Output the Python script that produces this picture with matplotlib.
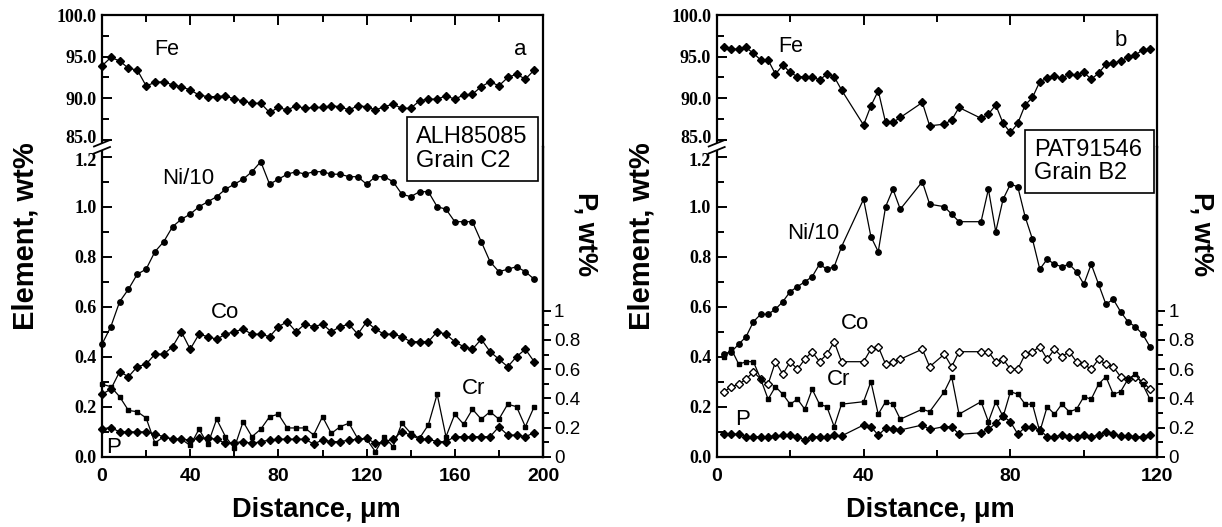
import matplotlib
matplotlib.use('Agg')
import matplotlib.pyplot as plt
import matplotlib.transforms as mtransforms
from matplotlib.lines import Line2D
from matplotlib.patches import Rectangle, Polygon

# ---------------- data ----------------
a_x = [0, 4, 8, 12, 16, 20, 24, 28, 32, 36, 40, 44, 48, 52, 56, 60, 64, 68, 72, 76,
       80, 84, 88, 92, 96, 100, 104, 108, 112, 116, 120, 124, 128, 132, 136, 140, 144, 148, 152, 156,
       160, 164, 168, 172, 176, 180, 184, 188, 192, 196]
a_fe = [93.9, 94.9, 94.5, 93.6, 93.4, 91.5, 91.9, 92.0, 91.6, 91.4,
        91.0, 90.4, 90.2, 90.2, 90.3, 89.9, 89.7, 89.4, 89.4, 88.3,
        88.9, 88.6, 89.1, 88.8, 88.9, 88.9, 89.1, 89.0, 88.6, 89.1,
        89.0, 88.6, 89.0, 89.3, 88.8, 88.8, 89.7, 89.9, 89.9, 90.3,
        89.9, 90.4, 90.5, 91.4, 92.0, 91.5, 92.5, 92.9, 92.3, 93.4]
a_ni = [0.45, 0.52, 0.62, 0.67, 0.73, 0.75, 0.82, 0.86, 0.92, 0.95,
        0.97, 1.00, 1.02, 1.04, 1.07, 1.09, 1.11, 1.14, 1.18, 1.09,
        1.11, 1.13, 1.14, 1.13, 1.14, 1.14, 1.13, 1.13, 1.12, 1.12,
        1.09, 1.12, 1.12, 1.10, 1.05, 1.04, 1.06, 1.06, 1.00, 0.99,
        0.94, 0.94, 0.94, 0.86, 0.78, 0.74, 0.75, 0.76, 0.74, 0.71]
a_co = [0.25, 0.27, 0.34, 0.32, 0.36, 0.37, 0.41, 0.41, 0.44, 0.50,
        0.43, 0.49, 0.48, 0.47, 0.49, 0.50, 0.51, 0.49, 0.49, 0.48,
        0.52, 0.54, 0.50, 0.53, 0.52, 0.53, 0.50, 0.52, 0.53, 0.49,
        0.54, 0.51, 0.49, 0.49, 0.48, 0.46, 0.46, 0.46, 0.50, 0.49,
        0.46, 0.44, 0.43, 0.47, 0.42, 0.39, 0.36, 0.40, 0.43, 0.38]
a_cr = [0.29, 0.28, 0.24, 0.185, 0.18, 0.155, 0.055, 0.08, 0.07, 0.07,
        0.045, 0.11, 0.05, 0.15, 0.08, 0.035, 0.14, 0.08, 0.11, 0.16,
        0.17, 0.115, 0.115, 0.115, 0.087, 0.16, 0.093, 0.12, 0.134, 0.072,
        0.07, 0.02, 0.08, 0.04, 0.134, 0.094, 0.074, 0.127, 0.25, 0.08,
        0.17, 0.13, 0.19, 0.15, 0.18, 0.15, 0.21, 0.20, 0.12, 0.20]
a_p = [0.19, 0.20, 0.17, 0.17, 0.17, 0.17, 0.155, 0.137, 0.12, 0.12,
       0.114, 0.126, 0.126, 0.12, 0.091, 0.096, 0.103, 0.091, 0.103, 0.114,
       0.12, 0.12, 0.12, 0.12, 0.087, 0.114, 0.103, 0.103, 0.114, 0.12,
       0.126, 0.091, 0.103, 0.12, 0.171, 0.148, 0.12, 0.12, 0.103, 0.103,
       0.137, 0.137, 0.137, 0.137, 0.137, 0.205, 0.148, 0.148, 0.137, 0.164]

b_x = [2, 4, 6, 8, 10, 12, 14, 16, 18, 20, 22, 24, 26, 28, 30, 32, 34,
       40, 42, 44, 46, 48, 50, 56, 58, 62, 64, 66,
       72, 74, 76, 78, 80, 82, 84, 86, 88, 90, 92, 94, 96, 98, 100, 102, 104, 106, 108,
       110, 112, 114, 116, 118]
b_fe = [96.1, 95.9, 95.9, 96.1, 95.4, 94.6, 94.6, 92.9, 94.0, 93.1, 92.6, 92.6, 92.6, 92.2, 92.9, 92.6, 91.0,
        86.8, 89.1, 90.9, 87.1, 87.1, 87.7, 89.5, 86.7, 86.9, 87.4, 88.9,
        87.6, 88.1, 89.2, 87.0, 85.9, 87.0, 89.2, 90.1, 92.0, 92.4, 92.7, 92.4, 92.9, 92.8, 93.1, 92.3, 93.0,
        94.1, 94.2, 94.5, 94.9, 95.2, 95.8, 95.9]
b_ni = [0.41, 0.42, 0.45, 0.48, 0.54, 0.57, 0.57, 0.59, 0.62, 0.66, 0.68, 0.70, 0.72, 0.77, 0.75, 0.76, 0.84,
        1.03, 0.88, 0.82, 1.00, 1.07, 0.99, 1.10, 1.01, 1.00, 0.97, 0.94,
        0.94, 1.07, 0.90, 1.03, 1.09, 1.08, 0.96, 0.87, 0.75, 0.79, 0.77, 0.76, 0.77, 0.74, 0.69, 0.77, 0.69,
        0.61, 0.63, 0.58, 0.54, 0.52, 0.49, 0.44]
b_co = [0.26, 0.28, 0.29, 0.31, 0.34, 0.31, 0.29, 0.38, 0.33, 0.38, 0.35, 0.39, 0.42, 0.38, 0.41, 0.46, 0.38,
        0.38, 0.43, 0.44, 0.37, 0.38, 0.39, 0.43, 0.36, 0.41, 0.36, 0.42,
        0.42, 0.42, 0.38, 0.39, 0.35, 0.35, 0.41, 0.42, 0.44, 0.39, 0.43, 0.40, 0.42, 0.38, 0.37, 0.35, 0.39,
        0.37, 0.36, 0.32, 0.31, 0.32, 0.30, 0.27]
b_cr = [0.40, 0.43, 0.37, 0.38, 0.38, 0.31, 0.23, 0.28, 0.25, 0.21, 0.23, 0.19, 0.27, 0.21, 0.20, 0.12, 0.21,
        0.22, 0.30, 0.17, 0.22, 0.21, 0.15, 0.19, 0.18, 0.26, 0.32, 0.17,
        0.22, 0.14, 0.22, 0.16, 0.26, 0.25, 0.21, 0.21, 0.10, 0.20, 0.17, 0.21, 0.18, 0.19, 0.24, 0.23, 0.29,
        0.32, 0.25, 0.26, 0.31, 0.33, 0.29, 0.23]
b_p = [0.155, 0.155, 0.155, 0.137, 0.137, 0.137, 0.137, 0.142, 0.148, 0.148, 0.137, 0.114, 0.137, 0.137, 0.137, 0.148, 0.142,
       0.217, 0.206, 0.148, 0.194, 0.19, 0.183, 0.217, 0.187, 0.206, 0.206, 0.153,
       0.164, 0.187, 0.228, 0.278, 0.239, 0.155, 0.201, 0.201, 0.183, 0.137, 0.137, 0.148, 0.137, 0.137, 0.148, 0.137, 0.148,
       0.171, 0.155, 0.142, 0.142, 0.137, 0.137, 0.148]

fe_ticks = [85, 90, 95, 100]
fe_labels = ['85.0', '90.0', '95.0', '100.0']
low_ticks = [0.0, 0.2, 0.4, 0.6, 0.8, 1.0, 1.2]
low_labels = ['0.0', '0.2', '0.4', '0.6', '0.8', '1.0', '1.2']
p_ticks = [0, 0.2, 0.4, 0.6, 0.8, 1.0]
p_labels = ['0', '0.2', '0.4', '0.6', '0.8', '1']
a_xticks = [0, 40, 80, 120, 160, 200]
b_xticks = [0, 40, 80, 120]

# ---------------- layout helpers ----------------
W, H = 1222, 527
fig = plt.figure(figsize=(W / 100, H / 100), dpi=100)
SANS = 'Liberation Sans'
SERIF = 'Liberation Serif'


def fx(px):
    return px / W


def fy(py):
    return 1 - py / H


TOP, BRK, BOT = 15.0, 147.0, 456.7


def nudge(label, dy_px):
    off = mtransforms.ScaledTranslation(0, dy_px / 100.0, fig.dpi_scale_trans)
    label.set_transform(label.get_transform() + off)


def panel(x0, x1, xmax, xticks, xs, fe, ni, co, cr, p, co_open, texts, box, boxtext, lab_x, plab_x, dist_x):
    ax_t = fig.add_axes([fx(x0), fy(BRK), (x1 - x0) / W, (BRK - TOP) / H])
    ax_b = fig.add_axes([fx(x0), fy(BOT), (x1 - x0) / W, (BOT - BRK) / H])
    ax_p = ax_b.twinx()
    ax_t.set_ylim(100 - (BRK - TOP) / 8.333, 100)
    ax_b.set_ylim(0, 1.2 + (156.7 - BRK) / 250.0)
    ax_p.set_ylim(0, (BOT - BRK) / 146.0)
    for ax in (ax_t, ax_b, ax_p):
        ax.set_xlim(0, xmax)
        for s in ax.spines.values():
            s.set_linewidth(1.6)
    ax_t.spines['bottom'].set_visible(False)
    ax_b.spines['top'].set_visible(False)
    for s in ('top', 'left', 'bottom'):
        ax_p.spines[s].set_visible(False)

    kw = dict(color='black', lw=0.9, clip_on=False)
    ax_t.plot(xs, fe, marker='D', ms=4.4, **kw)
    ax_b.plot(xs, ni, marker='o', ms=3.9, **kw)
    if co_open:
        ax_b.plot(xs, co, marker='D', ms=4.4, mfc='white', mew=1.0, **kw)
    else:
        ax_b.plot(xs, co, marker='D', ms=4.4, **kw)
    ax_b.plot(xs, cr, marker='s', ms=3.3, **kw)
    ax_p.plot(xs, p, marker='D', ms=3.9, **kw)

    # ticks
    minor_x = [v + (xticks[1] - xticks[0]) / 2 for v in xticks[:-1]]
    ax_t.set_xticks(xticks)
    ax_t.set_xticks(minor_x, minor=True)
    ax_t.tick_params(axis='x', which='both', direction='in', top=True, bottom=False,
                     labeltop=False, labelbottom=False, width=1.4)
    ax_t.tick_params(axis='x', which='major', length=7)
    ax_t.tick_params(axis='x', which='minor', length=5)
    ax_t.set_yticks(fe_ticks)
    ax_t.set_yticklabels(fe_labels)
    ax_t.set_yticks([87.5, 92.5, 97.5], minor=True)
    ax_t.tick_params(axis='y', which='both', direction='in', left=True, right=False, width=1.4, pad=4)
    ax_t.tick_params(axis='y', which='major', length=7)
    ax_t.tick_params(axis='y', which='minor', length=5)

    ax_b.set_xticks(xticks)
    ax_b.set_xticklabels([str(v) for v in xticks])
    ax_b.set_xticks(minor_x, minor=True)
    ax_b.tick_params(axis='x', which='both', direction='in', top=False, bottom=True, width=1.4, pad=8)
    ax_b.tick_params(axis='x', which='major', length=6)
    ax_b.tick_params(axis='x', which='minor', length=5)
    ax_b.set_yticks(low_ticks)
    ax_b.set_yticklabels(low_labels)
    ax_b.set_yticks([0.1, 0.3, 0.5, 0.7, 0.9, 1.1], minor=True)
    ax_b.tick_params(axis='y', which='both', direction='in', left=True, right=False, width=1.4, pad=4)
    ax_b.tick_params(axis='y', which='major', length=7)
    ax_b.tick_params(axis='y', which='minor', length=5)

    ax_p.set_yticks(p_ticks)
    ax_p.set_yticklabels(p_labels)
    ax_p.set_yticks([0.1, 0.3, 0.5, 0.7, 0.9], minor=True)
    ax_p.tick_params(axis='y', which='both', direction='out', right=True, left=False, width=1.4, pad=2)
    ax_p.tick_params(axis='y', which='major', length=6)
    ax_p.tick_params(axis='y', which='minor', length=4)

    for lab in ax_t.get_yticklabels() + ax_b.get_yticklabels():
        lab.set_fontfamily(SERIF)
        lab.set_fontweight('bold')
        lab.set_fontsize(13)
    # keep "85.0" and "1.2" apart at the axis break
    nudge(ax_t.yaxis.get_major_ticks()[0].label1, 3.0)
    nudge(ax_b.yaxis.get_major_ticks()[-1].label1, -3.0)
    for lab in ax_b.get_xticklabels():
        lab.set_fontfamily(SANS)
        lab.set_fontsize(14)
        lab.set_fontweight('bold')
    for lab in ax_p.get_yticklabels():
        lab.set_fontfamily(SANS)
        lab.set_fontsize(13.5)

    # series labels
    for (ax_name, tx, ty, s, fs) in texts:
        ax = {'t': ax_t, 'b': ax_b}[ax_name]
        ax.text(tx, ty, s, ha='center', va='center', fontsize=fs, family=SANS)

    # axis labels
    fig.text(fx(lab_x), fy(236), 'Element, wt%', rotation=90, ha='center', va='center',
             fontsize=21, fontweight='bold', family=SANS)
    fig.text(fx(plab_x), fy(234), 'P, wt%', rotation=270, ha='center', va='center',
             fontsize=19.5, fontweight='bold', family=SANS)
    fig.text(fx(dist_x), fy(510), 'Distance, \u03bcm', ha='center', va='center',
             fontsize=19.5, fontweight='bold', family=SANS)

    # sample box
    bx0, by0, bx1, by1 = box
    fig.add_artist(Rectangle((fx(bx0), fy(by1)), (bx1 - bx0) / W, (by1 - by0) / H,
                             transform=fig.transFigure, facecolor='white', edgecolor='black',
                             lw=1.2, zorder=5))
    fig.text(fx(bx0 + 9), fy((by0 + by1) / 2), boxtext, ha='left', va='center', fontsize=17,
             family=SANS, linespacing=1.08, zorder=6)

    # axis break mark on left spine
    cy = BRK
    poly = Polygon([(fx(x0 - 8), fy(cy - 0.5)), (fx(x0 + 8), fy(cy - 7)),
                    (fx(x0 + 8), fy(cy)), (fx(x0 - 8), fy(cy + 6.5))],
                   closed=True, transform=fig.transFigure, facecolor='white', edgecolor='none', zorder=7)
    fig.add_artist(poly)
    for dy in (-0.5, 6.5):
        fig.add_artist(Line2D([fx(x0 - 8), fx(x0 + 8)], [fy(cy + dy), fy(cy + dy - 6.5)],
                              transform=fig.transFigure, color='black', lw=1.3, zorder=8))


panel(102, 543, 200, a_xticks, a_x, a_fe, a_ni, a_co, a_cr, a_p, False,
      [('t', 29.3, 95.8, 'Fe', 15.5), ('t', 189.9, 95.8, 'a', 16),
       ('b', 39.1, 1.114, 'Ni/10', 16), ('b', 55.8, 0.576, 'Co', 16),
       ('b', 168.4, 0.271, 'Cr', 16), ('b', 5.1, 0.038, 'P', 16)],
      (407.3, 117.3, 537.7, 180.7), 'ALH85085\nGrain C2', 25, 586, 316)

panel(716.7, 1157.3, 120, b_xticks, b_x, b_fe, b_ni, b_co, b_cr, b_p, True,
      [('t', 20.2, 96.2, 'Fe', 15.5), ('t', 110.1, 96.9, 'b', 16),
       ('b', 26.3, 0.894, 'Ni/10', 16), ('b', 37.7, 0.534, 'Co', 16),
       ('b', 33.1, 0.307, 'Cr', 16), ('b', 7.0, 0.147, 'P', 16)],
      (1025, 130, 1154.3, 193.3), 'PAT91546\nGrain B2', 641, 1201, 930)

fig.savefig('out.png', dpi=100)
